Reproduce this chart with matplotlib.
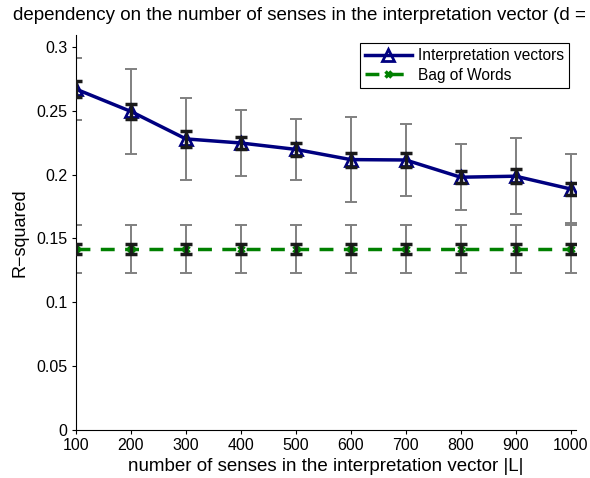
import matplotlib
matplotlib.use("Agg")
import matplotlib.pyplot as plt
import numpy as np

plt.rcParams["font.family"] = ["Liberation Sans", "DejaVu Sans"]

senses = [100, 200, 300, 400, 500, 600, 700, 800, 900, 1000]
interp_mean = [0.267, 0.2495, 0.228, 0.2248, 0.2198, 0.2118, 0.2115, 0.198, 0.1988, 0.1888]
interp_std = [0.024, 0.033, 0.032, 0.026, 0.024, 0.033, 0.028, 0.026, 0.030, 0.027]
interp_sem = [0.006, 0.006, 0.006, 0.005, 0.005, 0.0055, 0.0053, 0.0047, 0.0053, 0.005]
bow_mean = [0.1418] * 10
bow_std = [0.019] * 10
bow_sem = [0.004] * 10

x = np.array(senses)
figure = plt.figure(figsize=(5.9, 4.78), dpi=100)
axis = figure.add_axes([0.1288, 0.1004, 0.8475, 0.8264])

# wide grey bars (std), under the lines
axis.errorbar(x, interp_mean, yerr=interp_std, fmt="none", ecolor="#808080",
              elinewidth=1.4, capsize=4, capthick=1.4, zorder=2)
axis.errorbar(x, bow_mean, yerr=bow_std, fmt="none", ecolor="#808080",
              elinewidth=1.4, capsize=4, capthick=1.4, zorder=2)

axis.plot(x, interp_mean, color="#000080", linewidth=2.5, marker="^",
          markersize=8, markerfacecolor="none", markeredgewidth=2,
          label="Interpretation vectors", zorder=3)
axis.plot(x, bow_mean, color="#008000", linewidth=2.5, linestyle=(0, (4, 3)),
          marker="x", markersize=5, markeredgewidth=2.5,
          label="Bag of Words", zorder=3)

# narrow black bars (standard error), on top
axis.errorbar(x, interp_mean, yerr=interp_sem, fmt="none", ecolor="#1a1a1a",
              elinewidth=2.5, capsize=4, capthick=2.5, zorder=4)
axis.errorbar(x, bow_mean, yerr=bow_sem, fmt="none", ecolor="#1a1a1a",
              elinewidth=2.5, capsize=4, capthick=2.5, zorder=4)

axis.set_xlim(100, 1010)
axis.set_ylim(0, 0.3094)
axis.set_xticks(senses)
axis.set_yticks([0, 0.05, 0.1, 0.15, 0.2, 0.25, 0.3])
axis.set_yticklabels(["0", "0.05", "0.1", "0.15", "0.2", "0.25", "0.3"])
axis.tick_params(direction="out", length=3, width=0.8, labelsize=11.5, pad=3)
for side in ("top", "right"):
    axis.spines[side].set_visible(False)
axis.set_xlabel("number of senses in the interpretation vector |L|", fontsize=13.5, labelpad=3)
axis.set_ylabel("R\u2212squared", fontsize=13, labelpad=6)
axis.set_title("dependency on the number of senses in the interpretation vector (d = 1000)",
               fontsize=13.5, pad=11)

legend = axis.legend(loc="upper right", bbox_to_anchor=(0.986, 0.98), fontsize=11.2,
                     fancybox=False, edgecolor="black", framealpha=1,
                     handlelength=3.0, handletextpad=0.38, borderpad=0.35,
                     labelspacing=0.28, borderaxespad=0)
legend.get_frame().set_linewidth(0.8)

figure.savefig("out.png", dpi=100)
plt.close(figure)
